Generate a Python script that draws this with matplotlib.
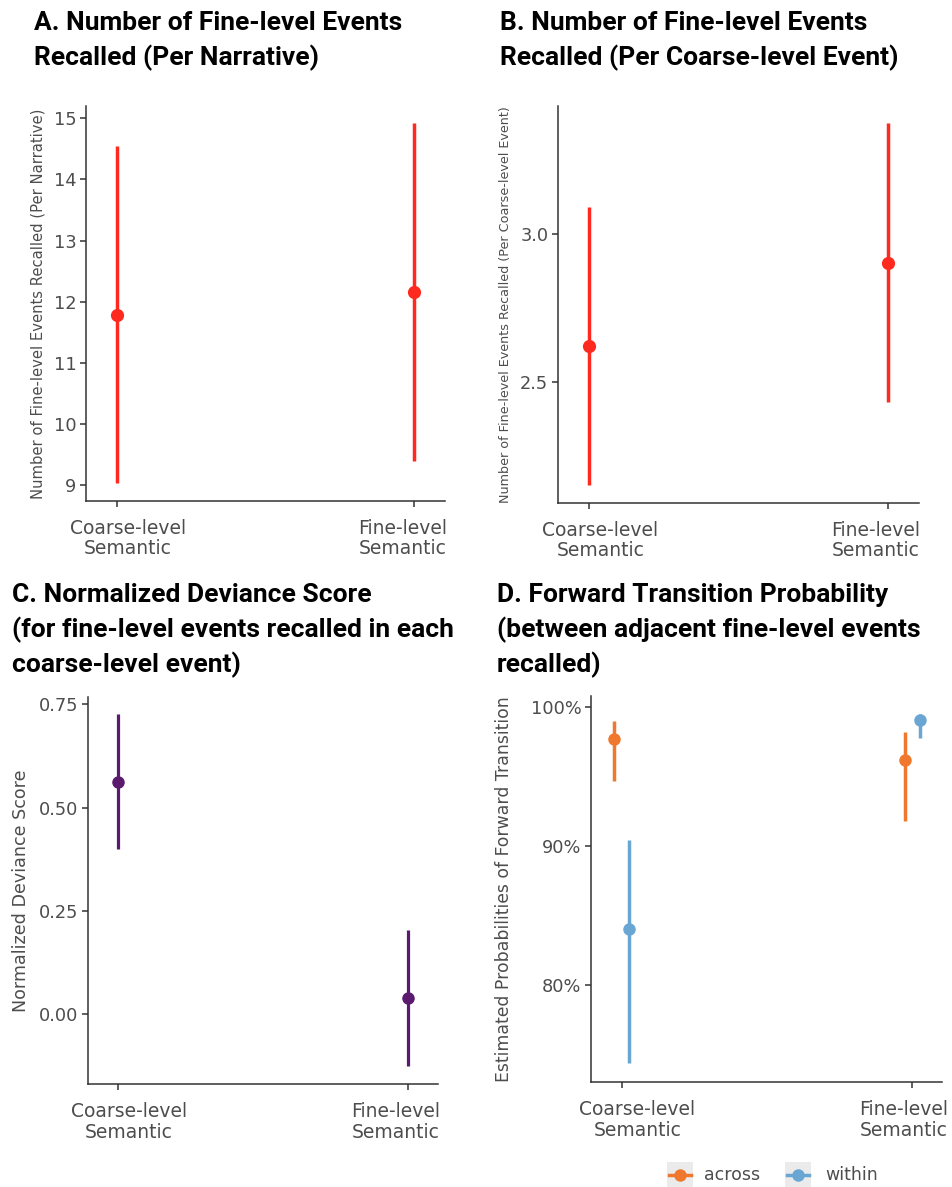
import matplotlib
matplotlib.use("Agg")
import matplotlib.pyplot as plt
from matplotlib.patches import Rectangle
from matplotlib.lines import Line2D
from matplotlib.ticker import FuncFormatter

# ---------------- data ----------------
categories = ["Coarse-level\nSemantic", "Fine-level\nSemantic"]

a_est = [11.79, 12.16]
a_low = [9.04, 9.39]
a_high = [14.55, 14.92]

b_est = [2.621, 2.903]
b_low = [2.155, 2.434]
b_high = [3.090, 3.374]

c_est = [0.562, 0.039]
c_low = [0.400, -0.125]
c_high = [0.726, 0.203]

d_groups = ["across", "within"]
d_est = {"across": [0.977, 0.962], "within": [0.840, 0.991]}
d_low = {"across": [0.947, 0.918], "within": [0.744, 0.978]}
d_high = {"across": [0.990, 0.982], "within": [0.904, 0.995]}

titles = {
    "A": ["A. Number of Fine-level Events", "Recalled (Per Narrative)"],
    "B": ["B. Number of Fine-level Events", "Recalled (Per Coarse-level Event)"],
    "C": ["C. Normalized Deviance Score", "(for fine-level events recalled in each",
          "coarse-level event)"],
    "D": ["D. Forward Transition Probability", "(between adjacent fine-level events",
          "recalled)"],
}

# ---------------- styling ----------------
W, H = 952, 1187
fig = plt.figure(figsize=(W / 100, H / 100), dpi=100)

TITLE_FONT = ["Roboto", "DejaVu Sans"]
BODY_FONT = ["DejaVu Sans"]
TXT = "#4d4d4d"
RED = "#ff2a1f"
PURPLE = "#5b1a6e"
COLORS = {"across": "#f0782e", "within": "#6aa6d4"}


def add_axes(l, r, t, b):
    return fig.add_axes([l / W, 1 - b / H, (r - l) / W, (b - t) / H])


def style(ax, xlim, ylim, yticks, ylabel, ylabel_size, ylabel_x, label_shift=(11, -12)):
    ax.set_xlim(*xlim)
    ax.set_ylim(*ylim)
    ax.set_xticks([1, 2])
    ax.set_xticklabels(["", ""])
    # category labels drawn below ticks (slightly inset, as in the reference)
    for xv, lab, dx in zip([1, 2], categories, label_shift):
        ax.annotate(lab, xy=(xv, 0), xycoords=ax.get_xaxis_transform(),
                    xytext=(dx, -18), textcoords="offset pixels",
                    ha="center", va="top", fontsize=13.5, color=TXT,
                    family=BODY_FONT, linespacing=1.1, multialignment="center",
                    annotation_clip=False)
    ax.set_yticks(yticks)
    for s in ["top", "right"]:
        ax.spines[s].set_visible(False)
    for s in ["left", "bottom"]:
        ax.spines[s].set_color("#333333")
        ax.spines[s].set_linewidth(1.1)
    ax.tick_params(axis="both", colors="#333333", labelcolor=TXT, length=4,
                   width=1.1, labelsize=12.8, pad=3)
    for lab in ax.get_yticklabels():
        lab.set_family(BODY_FONT)
    ax.set_ylabel(ylabel, fontsize=ylabel_size, color=TXT, family=BODY_FONT)
    ax.yaxis.label.set_va("center")
    ax.yaxis.set_label_coords(ylabel_x, 0.5)


def pointrange(ax, x, est, low, high, color, lw=2.5, ms=9.5):
    for xi, e, lo, hi in zip(x, est, low, high):
        ax.plot([xi, xi], [lo, hi], color=color, lw=lw, solid_capstyle="butt", zorder=2)
        ax.plot([xi], [e], "o", color=color, ms=ms, mec="none", zorder=3)


xs = [1, 2]

# ---- A ----
axA = add_axes(86, 445, 106, 501)
pointrange(axA, xs, a_est, a_low, a_high, RED)
style(axA, (0.897, 2.103), (8.74, 15.2), [9, 10, 11, 12, 13, 14, 15],
      "Number of Fine-level Events Recalled (Per Narrative)", 10.6, (38 - 86) / 359)

# ---- B ----
axB = add_axes(558, 919, 106, 503)
pointrange(axB, xs, b_est, b_low, b_high, RED)
style(axB, (0.895, 2.104), (2.093, 3.432), [2.5, 3.0],
      "Number of Fine-level Events Recalled (Per Coarse-level Event)", 9.2,
      (505 - 558) / 361)
axB.yaxis.set_major_formatter(FuncFormatter(lambda v, p: f"{v:.1f}"))

# ---- C ----
axC = add_axes(88, 438, 697, 1084)
pointrange(axC, xs, c_est, c_low, c_high, PURPLE, lw=2.3, ms=9)
style(axC, (0.897, 2.103), (-0.169, 0.768), [0.0, 0.25, 0.5, 0.75],
      "Normalized Deviance Score", 12.6, (21 - 88) / 350)
axC.yaxis.set_major_formatter(FuncFormatter(lambda v, p: f"{v:.2f}"))

# ---- D ----
axD = add_axes(591, 942, 696, 1082)
dodge = {"across": -0.026, "within": 0.026}
for g in d_groups:
    pointrange(axD, [x + dodge[g] for x in xs], d_est[g], d_low[g], d_high[g],
               COLORS[g], lw=2.5, ms=9)
style(axD, (0.895, 2.102), (0.73, 1.008), [0.8, 0.9, 1.0],
      "Estimated Probabilities of Forward Transition", 12.4, (504 - 591) / 351,
      label_shift=(16, -9))
axD.yaxis.set_major_formatter(FuncFormatter(lambda v, p: f"{v * 100:.0f}%"))

# ---- titles ----
tkw = dict(fontsize=19, fontweight="bold", family=TITLE_FONT, color="black",
           va="baseline", ha="left")
for key, x0, baselines in [("A", 34, [30, 65]), ("B", 500, [30, 65]),
                           ("C", 12, [602, 637, 672]), ("D", 497, [602, 637, 672])]:
    for line, by in zip(titles[key], baselines):
        fig.text(x0 / W, 1 - by / H, line, **tkw)

# ---- legend (manual, ggplot style) ----
key_w, key_h = 26, 26
for g, kx, tx in [("across", 667, 704), ("within", 785, 825)]:
    fig.patches.append(Rectangle((kx / W, 1 - (1162 + key_h) / H), key_w / W, key_h / H,
                                 transform=fig.transFigure, facecolor="#ebebeb",
                                 edgecolor="none"))
    cy = 1 - 1175 / H
    fig.lines.append(Line2D([(kx + 2) / W, (kx + key_w - 2) / W], [cy, cy],
                            transform=fig.transFigure, color=COLORS[g], lw=2.5))
    fig.lines.append(Line2D([(kx + key_w / 2) / W], [cy], transform=fig.transFigure,
                            marker="o", ms=9, color=COLORS[g], mec="none"))
    fig.text(tx / W, cy, g, fontsize=12.5, color=TXT, family=BODY_FONT,
             va="center", ha="left")

fig.savefig("out.png", dpi=100, facecolor="white")
